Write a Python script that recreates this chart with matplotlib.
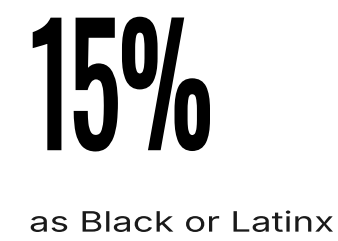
import matplotlib
matplotlib.use("Agg")
import matplotlib.pyplot as plt
from matplotlib.textpath import TextPath
from matplotlib.font_manager import FontProperties, findfont
from matplotlib.patches import PathPatch
from matplotlib.transforms import Affine2D

# the figure's content
value = "15%"
label = "as Black or Latinx"

W, H = 338, 241
fig = plt.figure(figsize=(W / 100, H / 100), dpi=100)
ax = fig.add_axes([0, 0, 1, 1])
ax.set_xlim(0, W)
ax.set_ylim(H, 0)
ax.axis("off")


def pick(families, weight="normal"):
    # first family that is really installed
    for fam in families:
        try:
            findfont(FontProperties(family=fam, weight=weight), fallback_to_default=False)
            return FontProperties(family=fam, weight=weight)
        except ValueError:
            pass
    return FontProperties(family="DejaVu Sans", weight=weight)


def fit_text(s, box, prop, color, grow=0.0):
    # draw text as a path, stretched to fill a pixel box (x0, y0, x1, y1);
    # grow (px) thickens the strokes with an outline
    path = TextPath((0, 0), s, size=100, prop=prop)
    ext = path.get_extents()
    x0, y0, x1, y1 = box
    x0, y0, x1, y1 = x0 + grow / 2, y0 + grow / 2, x1 - grow / 2, y1 - grow / 2
    sx = (x1 - x0) / ext.width
    sy = (y1 - y0) / ext.height
    tr = Affine2D().translate(-ext.x0, -ext.y1).scale(sx, -sy).translate(x0, y0)
    ax.add_patch(PathPatch(tr.transform_path(path), fc=color, ec=color,
                           lw=grow * 0.72, joinstyle="miter"))


fit_text(value, (32.7, 16.7, 210, 151.5),
         pick(["Oswald", "Barlow Condensed", "Antonio"]), "black", grow=3)
fit_text(label, (30.7, 210.5, 333, 232),
         pick(["Inter", "Roboto"]), "#1a1a1a")

fig.savefig("out.png", dpi=100, facecolor="white")
